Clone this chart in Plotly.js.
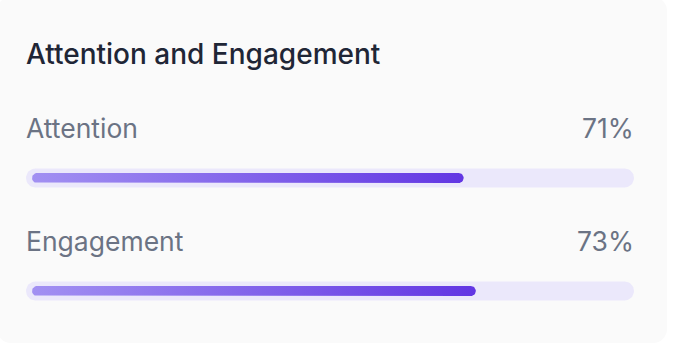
<!DOCTYPE html>
<html>
<head>
<meta charset="utf-8">
<script src="https://cdn.plot.ly/plotly-3.0.1.min.js"></script>
<style>
  html, body { margin: 0; padding: 0; background: #ffffff; }
  #wrap { position: relative; width: 686px; height: 360px; overflow: hidden; }
  #card { position: absolute; left: -3px; top: -3px; width: 670px; height: 346px;
          border-radius: 14px; background: #fafafa; }
  #chart { position: absolute; left: 0; top: 0; width: 686px; height: 360px; }
</style>
</head>
<body>
<div id="wrap"><div id="card"></div><div id="chart"></div></div>
<script>
const chartTitle = "Attention and Engagement";
const categories = ["Attention", "Engagement"];
const values = [71, 73];
const tickLabels = ["71%", "73%"];

// layout geometry (pixels)
const W = 686, H = 360;
const plotL = 26, plotR = 634;            // track extent
const pxPerUnit = (plotR - plotL) / 100;   // x axis: 0..100 %
const rowTop = 178, rowGap = 113;          // track centers
const trackR = 9.5, fillR = 5, fillInset = 6;

function pxToX(px) { return (px - plotL) / pxPerUnit; }

// pill polygon in data coordinates (x: %, y: pixel axis)
function pill(px0, px1, yc, r) {
  const xs = [], ys = [];
  const n = 16;
  for (let i = 0; i <= n; i++) {
    const a = -Math.PI / 2 + Math.PI * i / n;
    xs.push(pxToX(px1 - r + r * Math.cos(a)));
    ys.push(yc + r * Math.sin(a));
  }
  for (let i = 0; i <= n; i++) {
    const a = Math.PI / 2 + Math.PI * i / n;
    xs.push(pxToX(px0 + r + r * Math.cos(a)));
    ys.push(yc + r * Math.sin(a));
  }
  xs.push(xs[0]); ys.push(ys[0]);
  return {x: xs, y: ys};
}

const FONT = "Inter, 'Noto Sans', sans-serif";
const traces = [];
const annotations = [{
  xref: "paper", yref: "y", x: 0, xshift: -2, y: 54, xanchor: "left", yanchor: "middle",
  text: chartTitle, showarrow: false,
  font: {family: FONT, size: 28, weight: 500, color: "#1f2636"}
}];

categories.forEach((cat, i) => {
  const yc = rowTop + i * rowGap;
  const tr = pill(plotL, plotR, yc, trackR);
  traces.push({
    type: "scatter", mode: "lines", x: tr.x, y: tr.y, fill: "toself",
    fillcolor: "#ebe8fb", line: {width: 0, color: "rgba(0,0,0,0)"},
    hoverinfo: "skip", showlegend: false
  });
  const startPx = plotL + fillInset;
  const endPx = startPx + values[i] * pxPerUnit;
  const fp = pill(startPx, endPx, yc, fillR);
  traces.push({
    type: "scatter", mode: "lines", x: fp.x, y: fp.y, fill: "toself",
    fillgradient: {type: "horizontal",
      colorscale: [[0, "#a290f2"], [1, "#6236e3"]]},
    line: {width: 0, color: "rgba(0,0,0,0)"},
    name: cat, hoverinfo: "name", showlegend: false
  });
  annotations.push({
    xref: "paper", yref: "y", x: 0, xshift: -2, y: yc - 50, xanchor: "left", yanchor: "middle",
    text: cat, showarrow: false,
    font: {family: FONT, size: 26.5, color: "#6b7384"}
  });
  annotations.push({
    xref: "paper", yref: "y", x: 1, xshift: 2, y: yc - 50, xanchor: "right", yanchor: "middle",
    text: tickLabels[i], showarrow: false,
    font: {family: FONT, size: 26.5, color: "#6b7384"}
  });
});

const layout = {
  width: W, height: H,
  margin: {l: plotL, r: W - plotR, t: 0, b: 0, pad: 0},
  paper_bgcolor: "rgba(0,0,0,0)", plot_bgcolor: "rgba(0,0,0,0)",
  xaxis: {range: [0, 100], visible: false, fixedrange: true},
  yaxis: {range: [H, 0], visible: false, fixedrange: true},
  annotations: annotations,
  showlegend: false
};

Plotly.newPlot("chart", traces, layout, {displayModeBar: false, staticPlot: true});
</script>
</body>
</html>
